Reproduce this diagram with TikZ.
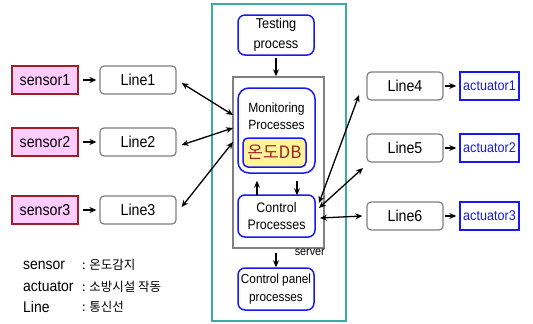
\documentclass[tikz,border=0pt]{standalone}
\usepackage[svgnames]{xcolor}
\usepackage{fontspec}
\setmainfont{Liberation Sans}[FakeStretch=0.9]
\newfontfamily\kr{Noto Sans CJK KR}
\usetikzlibrary{arrows.meta,positioning,shapes}

\definecolor{srvteal}{RGB}{58,172,164}
\definecolor{boxblue}{RGB}{24,24,240}
\definecolor{sensred}{RGB}{160,30,40}
\definecolor{senspink}{RGB}{255,204,255}
\definecolor{dbyellow}{RGB}{255,245,150}

\newcommand{\fs}[1]{\fontsize{#1}{#1}\selectfont}

\begin{document}
\begin{tikzpicture}[
                    x=1pt, y=-1pt,
                    >={Stealth[length=7pt,width=6pt]},
                    every node/.append style = {font=\fs{15.8}, inner sep=0pt},
                    sensbox/.style = {draw=sensred, fill=senspink, line width=1.3pt, minimum width=66pt, minimum height=28pt},
                    linebox/.style = {draw=gray, rounded corners=4pt, line width=1.2pt, minimum width=76pt, minimum height=28pt},
                    actbox/.style  = {draw=boxblue, text=boxblue, font=\fs{14}, line width=1.5pt, minimum width=59pt, minimum height=28pt},
                    procbox/.style = {draw=boxblue, rounded corners=7pt, line width=1.5pt, align=center, font=\fontsize{13.8}{17}\selectfont},
                    legend/.style  = {anchor=west, font=\fs{15.5}},
                    lnk/.style     = {->, line width=1.3pt},
                    dlnk/.style    = {<->, line width=1.3pt}
                    ]
\useasboundingbox (0,0) rectangle (533,324);

% server frame
\draw[srvteal, line width=1.2pt] (212,4) rectangle (346,321);
\node[draw=gray, line width=1.5pt, minimum width=91pt, minimum height=171pt] (srv) at (278.5,162.5) {};
\node[anchor=north east, font=\fs{12}] (srvlbl) at (325,249) {server};

% processes
\node[procbox, font=\fontsize{14.2}{20}\selectfont, minimum width=76pt, minimum height=40pt] (test) at (276,35) {Testing\\process};
\node[procbox, rounded corners=11pt, minimum width=77pt, minimum height=85pt] (mon) at (276.5,130.5) {};
\node[font=\fontsize{13.4}{17}\selectfont, align=center] (montxt) at (276.5,116.5) {Monitoring\\Processes};
\node[draw=boxblue, fill=dbyellow, rounded corners=5pt, line width=1.5pt,
      minimum width=63pt, minimum height=29pt, text=sensred,
      font=\kr\fs{17}] (db) at (274.5,152.5) {온도DB};
\node[procbox, minimum width=77pt, minimum height=42pt] (ctrl) at (276.5,216) {Control\\Processes};
\node[procbox, font=\fontsize{13.1}{18}\selectfont, minimum width=76pt, minimum height=42pt] (panel) at (276,289) {Control panel\\processes};

% sensors and lines
\node[sensbox] (s1) at (45,80)  {sensor1};
\node[sensbox] (s2) at (45,142) {sensor2};
\node[sensbox] (s3) at (45,210) {sensor3};
\node[linebox] (l1) at (138,80)  {Line1};
\node[linebox] (l2) at (138,142) {Line2};
\node[linebox] (l3) at (138,210) {Line3};

% lines and actuators
\node[linebox] (l4) at (405,86)  {Line4};
\node[linebox] (l5) at (405,148) {Line5};
\node[linebox] (l6) at (405,216) {Line6};
\node[actbox] (a1) at (489.5,86)  {actuator1};
\node[actbox] (a2) at (489.5,148) {actuator2};
\node[actbox] (a3) at (489.5,216) {actuator3};

% ends of the links on the server side
\coordinate (in1) at (233,115);
\coordinate (in2) at (233,128);
\coordinate (in3) at (233,142);
\coordinate (out1) at (319,203);
\coordinate (out2) at (319,208);
\coordinate (out3) at (320,218);
\coordinate (to4) at (359,95);
\coordinate (to5) at (363,168);

\draw[lnk, shorten <=4pt, shorten >=3pt] (s1) -- (l1);
\draw[lnk, shorten <=4pt, shorten >=3pt] (s2) -- (l2);
\draw[lnk, shorten <=4pt, shorten >=3pt] (s3) -- (l3);
\draw[lnk, shorten <=1pt, shorten >=3pt] (l4) -- (a1);
\draw[lnk, shorten <=1pt, shorten >=3pt] (l5) -- (a2);
\draw[lnk, shorten <=1pt, shorten >=3pt] (l6) -- (a3);

\draw[dlnk] ([shift={(5,3)}]l1.east) -- (in1);
\draw[dlnk] ([shift={(5,3)}]l2.east) -- (in2);
\draw[dlnk] ([shift={(5,-3)}]l3.east) -- (in3);
\draw[dlnk] (out1) -- (to4);
\draw[dlnk] (out2) -- (to5);
\draw[dlnk] (out3) -- ([xshift=-4pt]l6.west);

\draw[lnk] ([yshift=-2pt]test.south) -- (test.south |- srv.north);
\draw[lnk] ([xshift=-19.5pt,yshift=-1pt]ctrl.north) -- ([xshift=-19.5pt,yshift=-7pt]mon.south);
\draw[lnk] ([xshift=20.5pt,yshift=-7pt]mon.south) -- ([xshift=20.5pt,yshift=-1pt]ctrl.north);
\draw[lnk] (276,253) -- (panel.north);

% legend
\node[legend] (lg1) at (23,265) {sensor};
\node[legend] (lg2) at (23,287) {actuator};
\node[legend] (lg3) at (23,307) {Line};
\node[legend, font=\kr\fs{12.5}] (lk1) at (82,265) {: 온도감지};
\node[legend, font=\kr\fs{12.5}] (lk2) at (82,287) {: 소방시설 작동};
\node[legend, font=\kr\fs{12.5}] (lk3) at (82,307) {: 통신선};
\end{tikzpicture}
\end{document}
